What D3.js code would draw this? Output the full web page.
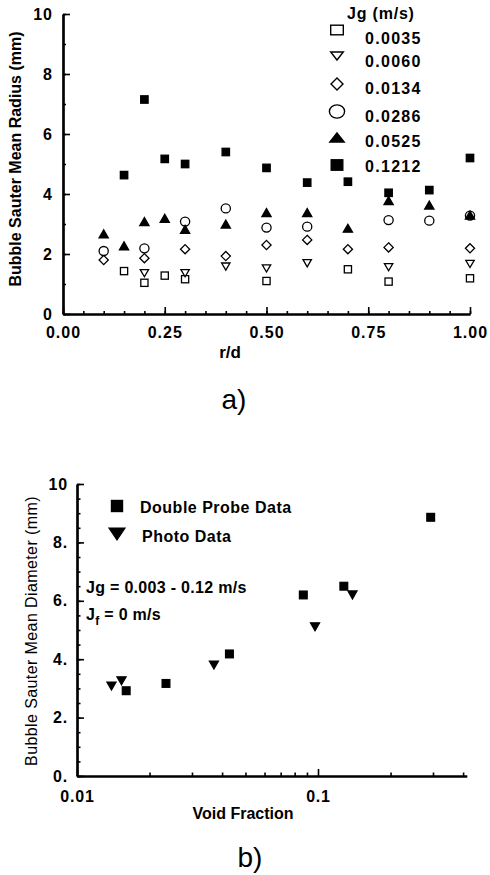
<!DOCTYPE html>
<html><head><meta charset="utf-8">
<script src="https://cdn.jsdelivr.net/npm/d3@7"></script>
<style>
body{margin:0;background:#fff;}
svg{display:block;background:#fff;}
text{font-family:"Liberation Sans",Arial,Helvetica,sans-serif;fill:#000;}
</style></head><body>
<svg id="c" width="490" height="875"></svg>
<script>
// ---------- Chart a) data ----------
const rdValues = [0.1, 0.15, 0.2, 0.25, 0.3, 0.4, 0.5, 0.6, 0.7, 0.8, 0.9, 1.0];
const jg0035 = [null, 1.43, 1.04, 1.28, 1.16, null, 1.10, null, 1.49, 1.08, null, 1.19];
const jg0060 = [null, null, 1.36, null, 1.36, 1.58, 1.52, 1.69, null, 1.56, null, 1.67];
const jg0134 = [1.80, null, 1.86, null, 2.16, 1.93, 2.30, 2.47, 2.16, 2.22, null, 2.19];
const jg0286 = [2.10, null, 2.19, null, 3.08, 3.52, 2.88, 2.91, null, 3.13, 3.11, 3.28];
const jg0525 = [2.67, 2.27, 3.08, 3.19, 2.82, 3.00, 3.38, 3.38, 2.86, 3.78, 3.63, 3.30];
const jg1212 = [null, 4.63, 7.15, 5.17, 5.00, 5.40, 4.87, 4.38, 4.41, 4.04, 4.13, 5.20];
const legendLabelsA = ["0.0035", "0.0060", "0.0134", "0.0286", "0.0525", "0.1212"];
const xTicksA = [0, 0.25, 0.5, 0.75, 1.0];
const xTickLabelsA = ["0.00", "0.25", "0.50", "0.75", "1.00"];
const yTicksA = [0, 2, 4, 6, 8, 10];

// ---------- Chart b) data ----------
const probeVoid = [0.0160, 0.0234, 0.0429, 0.0869, 0.128, 0.2935];
const probeDiam = [2.92, 3.17, 4.18, 6.20, 6.50, 8.86];
const photoVoid = [0.0139, 0.0153, 0.0370, 0.0972, 0.139];
const photoDiam = [3.08, 3.26, 3.80, 5.11, 6.20];
const yTicksB = [0, 2, 4, 6, 8, 10];
const yTickLabelsB = ["0.", "2.", "4.", "6.", "8.", "10"];
const xTicksB = [0.01, 0.1];
const xTickLabelsB = ["0.01", "0.1"];

const svg = d3.select("#c");

function marker(g, type, cx, cy, w, h, sw) {
  const filled = type.endsWith("F");
  const kind = type.replace(/[FO]$/, "");
  let el;
  if (kind === "sq") {
    el = g.append("rect").attr("x", cx - w).attr("y", cy - h).attr("width", 2 * w).attr("height", 2 * h);
  } else if (kind === "circ") {
    el = g.append("ellipse").attr("cx", cx).attr("cy", cy).attr("rx", w).attr("ry", h);
  } else {
    let pts;
    if (kind === "up") pts = [[cx, cy - h], [cx + w, cy + h], [cx - w, cy + h]];
    else if (kind === "down") pts = [[cx - w, cy - h], [cx + w, cy - h], [cx, cy + h]];
    else pts = [[cx, cy - h], [cx + w, cy], [cx, cy + h], [cx - w, cy]];
    el = g.append("path").attr("d", "M" + pts.map(p => p.join(",")).join("L") + "Z");
  }
  el.attr("fill", filled ? "#000" : "#fff").attr("stroke", "#000").attr("stroke-width", sw || 1.3)
    .attr("stroke-linejoin", "miter");
}

function styleAxis(g) {
  g.select(".domain").attr("stroke", "#000").attr("stroke-width", 2.2);
  g.selectAll(".tick line").attr("stroke", "#000").attr("stroke-width", 1.6);
}

// ================= Chart a =================
const xA = d3.scaleLinear().domain([0, 1]).range([63, 470]);
const yA = d3.scaleLinear().domain([0, 10]).range([314, 14]);
const gA = svg.append("g");

// minor ticks
gA.append("g").attr("transform", `translate(0,${yA(0)})`)
  .call(d3.axisBottom(xA).tickValues(d3.range(0, 1.0001, 0.05)).tickSize(-3).tickSizeOuter(0).tickFormat(""))
  .call(styleAxis);
gA.append("g").attr("transform", `translate(${xA(0)},0)`)
  .call(d3.axisLeft(yA).tickValues(d3.range(0, 10.001, 1)).tickSize(-3).tickSizeOuter(0).tickFormat(""))
  .call(styleAxis);
// major ticks + labels
const axA = gA.append("g").attr("transform", `translate(0,${yA(0)})`)
  .call(d3.axisBottom(xA).tickValues(xTicksA).tickSize(-7).tickSizeOuter(0).tickPadding(13)
    .tickFormat((d, i) => xTickLabelsA[i]))
  .call(styleAxis);
axA.selectAll("text").attr("font-size", 16).attr("font-weight", "bold").attr("letter-spacing", 1).attr("fill", "#000");
const ayA = gA.append("g").attr("transform", `translate(${xA(0)},0)`)
  .call(d3.axisLeft(yA).tickValues(yTicksA).tickSize(-7).tickSizeOuter(0).tickPadding(10))
  .call(styleAxis);
ayA.selectAll("text").attr("font-size", 16).attr("font-weight", "bold").attr("letter-spacing", 1).attr("fill", "#000");

// data
const seriesA = [
  {v: jg0035, t: "sqO", w: 3.6, h: 3.6},
  {v: jg0060, t: "downO", w: 4.2, h: 3.6},
  {v: jg0134, t: "diaO", w: 4.6, h: 4.6},
  {v: jg0286, t: "circO", w: 4.6, h: 4.5},
  {v: jg0525, t: "upF", w: 4.6, h: 4.0},
  {v: jg1212, t: "sqF", w: 3.7, h: 3.7}
];
const ptsA = gA.append("g");
seriesA.forEach(s => {
  s.v.forEach((val, i) => {
    if (val == null) return;
    marker(ptsA, s.t, xA(rdValues[i]), yA(val), s.w, s.h, 1.3);
  });
});

// legend a
const legA = gA.append("g");
legA.append("text").attr("x", 347).attr("y", 19).attr("font-size", 16).attr("font-weight", "bold")
  .attr("letter-spacing", 0.8).text("Jg (m/s)");
const legSym = [
  {t: "sqO", w: 6.3, h: 4.8, y: 30},
  {t: "downO", w: 6.3, h: 4.0, y: 56},
  {t: "diaO", w: 6.0, h: 6.0, y: 84},
  {t: "circO", w: 7.6, h: 6.6, y: 111.5},
  {t: "upF", w: 7.2, h: 4.6, y: 137.5},
  {t: "sqF", w: 5.8, h: 5.2, y: 165}
];
const legTextY = [38, 61.5, 88, 116.5, 141.5, 166.5];
legendLabelsA.forEach((lab, i) => {
  marker(legA, legSym[i].t, 337, legSym[i].y, legSym[i].w, legSym[i].h, 1.4);
  legA.append("text").attr("x", 365).attr("y", legTextY[i]).attr("dy", "0.36em")
    .attr("font-size", 16).attr("font-weight", "bold").attr("letter-spacing", 1.3).text(lab);
});

// axis titles a
gA.append("text").attr("transform", "translate(15,159) rotate(-90)").attr("text-anchor", "middle")
  .attr("dy", "0.36em").attr("font-size", 16).attr("font-weight", "bold").text("Bubble Sauter Mean Radius (mm)");
gA.append("text").attr("x", 230).attr("y", 352).attr("dy", "0.36em").attr("text-anchor", "middle")
  .attr("font-size", 17).attr("font-weight", "bold").text("r/d");
gA.append("text").attr("x", 234).attr("y", 399).attr("dy", "0.36em").attr("text-anchor", "middle")
  .attr("font-size", 28).text("a)");

// ================= Chart b =================
const xB = d3.scaleLog().domain([0.01, 0.414]).range([77, 466.7]);
const yB = d3.scaleLinear().domain([0, 10]).range([776, 484]);
const gB = svg.append("g");

const minorB = [0.02, 0.03, 0.04, 0.05, 0.06, 0.07, 0.08, 0.09, 0.2, 0.3, 0.4];
gB.append("g").attr("transform", `translate(0,${yB(0)})`)
  .call(d3.axisBottom(xB).tickValues(minorB).tickSize(-3.5).tickSizeOuter(0).tickFormat(""))
  .call(styleAxis);
gB.append("g").attr("transform", `translate(${xB(0.01)},0)`)
  .call(d3.axisLeft(yB).tickValues(d3.range(0, 10.001, 0.5)).tickSize(-3.5).tickSizeOuter(0).tickFormat(""))
  .call(styleAxis);
const axB = gB.append("g").attr("transform", `translate(0,${yB(0)})`)
  .call(d3.axisBottom(xB).tickValues(xTicksB).tickSize(-7).tickSizeOuter(0).tickPadding(15)
    .tickFormat((d, i) => xTickLabelsB[i]))
  .call(styleAxis);
axB.selectAll("text").attr("font-size", 16).attr("font-weight", "bold").attr("letter-spacing", 0.8).attr("fill", "#000");
const ayB = gB.append("g").attr("transform", `translate(${xB(0.01)},0)`)
  .call(d3.axisLeft(yB).tickValues(yTicksB).tickSize(-7).tickSizeOuter(0).tickPadding(9)
    .tickFormat((d, i) => yTickLabelsB[i]))
  .call(styleAxis);
ayB.selectAll("text").attr("font-size", 16).attr("font-weight", "bold").attr("letter-spacing", 0.8).attr("fill", "#000");

const ptsB = gB.append("g");
probeVoid.forEach((v, i) => marker(ptsB, "sqF", xB(v), yB(probeDiam[i]), 3.9, 3.9, 1.2));
photoVoid.forEach((v, i) => marker(ptsB, "downF", xB(v), yB(photoDiam[i]), 4.6, 4.0, 1.2));

// legend b
marker(gB, "sqF", 117, 506, 5.6, 5.6, 1.2);
gB.append("text").attr("x", 140).attr("y", 507).attr("dy", "0.36em").attr("font-size", 16)
  .attr("font-weight", "bold").attr("letter-spacing", 0.5).text("Double Probe Data");
marker(gB, "downF", 117, 534, 8, 6, 1.2);
gB.append("text").attr("x", 142).attr("y", 536).attr("dy", "0.36em").attr("font-size", 16)
  .attr("font-weight", "bold").attr("letter-spacing", 0.5).text("Photo Data");
gB.append("text").attr("x", 86).attr("y", 587).attr("dy", "0.36em").attr("font-size", 16)
  .attr("font-weight", "bold").attr("letter-spacing", 0.3).text("Jg = 0.003 - 0.12 m/s");
const jf = gB.append("text").attr("x", 86).attr("y", 614).attr("dy", "0.36em").attr("font-size", 16)
  .attr("font-weight", "bold").attr("letter-spacing", 0.3);
jf.append("tspan").text("J");
jf.append("tspan").attr("font-size", 12).attr("dy", 5).text("f");
jf.append("tspan").attr("dy", -5).text(" = 0 m/s");

gB.append("text").attr("transform", "translate(31,631) rotate(-90)").attr("text-anchor", "middle")
  .attr("dy", "0.36em").attr("font-size", 16).attr("letter-spacing", 0.4).text("Bubble Sauter Mean Diameter (mm)");
gB.append("text").attr("x", 243).attr("y", 813).attr("dy", "0.36em").attr("text-anchor", "middle")
  .attr("font-size", 16).attr("font-weight", "bold").text("Void Fraction");
gB.append("text").attr("x", 250).attr("y", 857).attr("dy", "0.36em").attr("text-anchor", "middle")
  .attr("font-size", 28).text("b)");
</script>
</body></html>
